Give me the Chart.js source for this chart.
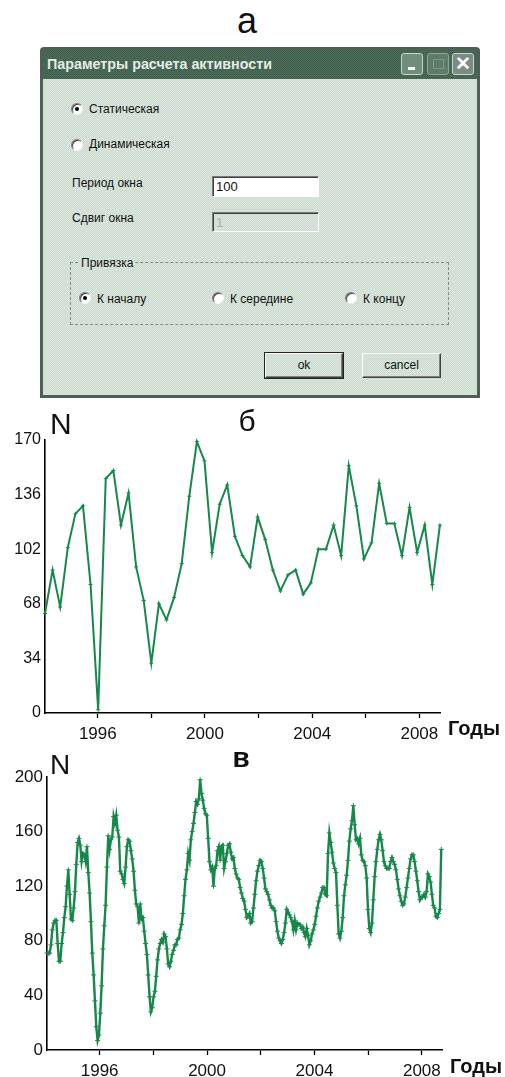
<!DOCTYPE html>
<html>
<head>
<meta charset="utf-8">
<script src="https://cdn.jsdelivr.net/npm/chart.js@4.4.0/dist/chart.umd.min.js"></script>
<style>
body { margin:0; width:505px; height:1077px; background:#fff; position:relative; overflow:hidden;
  font-family:"Liberation Sans", Arial, sans-serif; color:#111; }
.abs { position:absolute; white-space:nowrap; line-height:1; }
.dlg { position:absolute; left:40px; top:47px; width:440px; height:351px; background:#4e5f55; border-radius:4px 4px 0 0; }
.title { position:absolute; left:43px; top:50px; width:434px; height:29px;
  background:repeating-conic-gradient(#41604e 0 25%, #58776430 0 50%) 0 0/2px 2px, #4a6957; }
.body { position:absolute; left:43px; top:79px; width:434px; height:316px;
  background:repeating-conic-gradient(#cddbd0 0 25%, #dae6dc 0 50%) 0 0/2px 2px; }
.tbtn { position:absolute; top:53px; width:20px; height:20px; border:1px solid #c9d6cd; border-radius:3px; }
.radio { position:absolute; width:10px; height:10px; border-radius:50%; background:#fff;
  border:1px solid; border-color:#7d7d7d #f4f4f4 #f4f4f4 #7d7d7d; box-shadow:inset 1px 1px 0 #404040; }
.radio.on::after { content:""; position:absolute; left:3px; top:3px; width:4px; height:4px; border-radius:50%; background:#000; }
.lbl { font-size:12px; }
.input { position:absolute; left:212px; width:107px; border:1px solid; border-color:#7a7a7a #fff #fff #7a7a7a;
  box-shadow:inset 1px 1px 0 #404040; font-size:13px; line-height:19px; padding-left:3px; box-sizing:border-box; }
.btn { position:absolute; top:353px; height:25px; box-sizing:border-box; border:1px solid;
  border-color:#fff #404040 #404040 #fff; box-shadow:inset -1px -1px 0 #808080; font-size:12px;
  text-align:center; line-height:22px; background:repeating-conic-gradient(#cddbd0 0 25%, #dae6dc 0 50%) 0 0/2px 2px; }
.chartbox { position:absolute; left:0; }
</style>
</head>
<body>

<div class="abs" style="left:207px;top:3px;width:80px;text-align:center;font-size:36px;">а</div>

<!-- dialog -->
<div class="dlg"></div>
<div class="title"></div>
<div class="abs" style="left:47px;top:57px;font-size:14.3px;font-weight:bold;color:#e4ece6;">Параметры расчета активности</div>
<div class="tbtn" style="left:401px;background:#6f8f7c;"><div style="position:absolute;left:6px;top:13px;width:7px;height:3px;background:#fff;"></div></div>
<div class="tbtn" style="left:427px;background:#5d7c69;border-color:#8fa597;"><div style="position:absolute;left:5px;top:5px;width:9px;height:8px;border:1px solid #7f9a89;"></div></div>
<div class="tbtn" style="left:452px;background:#7c8c84;"><div style="position:absolute;left:0;top:0;width:20px;text-align:center;font-size:19px;line-height:20px;color:#fff;font-weight:bold;">✕</div></div>
<div class="body"></div>

<div class="radio on" style="left:71px;top:103px;"></div>
<div class="abs lbl" style="left:89px;top:103px;">Статическая</div>
<div class="radio" style="left:71px;top:139px;"></div>
<div class="abs lbl" style="left:89px;top:138px;">Динамическая</div>

<div class="abs lbl" style="left:72px;top:177px;">Период окна</div>
<div class="input" style="top:176px;height:21px;background:#fff;">100</div>
<div class="abs lbl" style="left:72px;top:212px;">Сдвиг окна</div>
<div class="input" style="top:212px;height:20px;color:#a8b4ab;">1</div>

<div style="position:absolute;left:70px;top:262px;width:377px;height:61px;border:1px dashed #7f8f85;"></div>
<div class="abs lbl" style="left:79px;top:257px;padding:0 2px;background:#d4e1d6;">Привязка</div>
<div class="radio on" style="left:79px;top:292px;"></div>
<div class="abs lbl" style="left:97px;top:293px;">К началу</div>
<div class="radio" style="left:212px;top:292px;"></div>
<div class="abs lbl" style="left:230px;top:293px;">К середине</div>
<div class="radio" style="left:345px;top:292px;"></div>
<div class="abs lbl" style="left:363px;top:293px;">К концу</div>

<div class="btn" style="left:265px;width:78px;outline:1px solid #222;">ok</div>
<div class="btn" style="left:362px;width:79px;">cancel</div>

<!-- chart б -->
<div class="chartbox" style="top:400px;"><canvas id="chartB" width="505" height="345"></canvas></div>
<div class="abs" style="left:50px;top:409px;font-size:30px;">N</div>
<div class="abs" style="left:217px;top:406px;width:60px;text-align:center;font-size:30px;">б</div>
<div class="abs" style="left:448px;top:718px;font-size:20px;font-weight:bold;">Годы</div>

<!-- chart в -->
<div class="chartbox" style="top:740px;"><canvas id="chartV" width="505" height="337"></canvas></div>
<div class="abs" style="left:50px;top:751px;font-size:28px;">N</div>
<div class="abs" style="left:211px;top:744px;width:60px;text-align:center;font-size:28px;font-weight:bold;">в</div>
<div class="abs" style="left:450px;top:1056px;font-size:20px;font-weight:bold;">Годы</div>

<script>
// б: static windows of ~100 days
const staticStart = 1994.03;
const staticStep = 0.2834;
const staticValues = [62, 89, 66, 103, 124, 129, 80, 2, 146, 151,
	117, 137, 91, 70, 31, 68, 58, 72, 93, 135,
	169, 157, 100, 130, 142, 110, 98, 91, 122, 108,
	89, 76, 86, 89, 74, 81, 102, 102, 117, 98,
	154, 129, 96, 106, 143, 118, 118, 98, 128, 100,
	117, 80, 117];
const staticYTicks = [0, 34, 68, 102, 136, 170];

// в: sliding window
const dynStart = 1994.04;
const dynStep = 0.0496;
const dynValues = [71, 71, 71, 77, 88, 93, 95, 95, 78, 65,
	65, 78, 86, 97, 105, 120, 132, 114, 96, 95,
	104, 116, 136, 152, 155, 150, 138, 144, 143, 138,
	149, 130, 115, 94, 71, 55, 36, 17, 7, 11,
	27, 47, 74, 91, 106, 134, 157, 147, 154, 156,
	171, 166, 172, 161, 156, 131, 129, 125, 122, 134,
	149, 154, 153, 146, 140, 131, 117, 107, 105, 93,
	107, 96, 97, 87, 78, 70, 55, 39, 28, 31,
	39, 43, 54, 66, 74, 78, 81, 79, 85, 83,
	74, 63, 61, 65, 70, 73, 77, 77, 81, 82,
	88, 92, 100, 113, 125, 132, 144, 139, 154, 160,
	166, 174, 182, 180, 184, 198, 188, 183, 177, 173,
	172, 155, 138, 132, 134, 120, 133, 135, 146, 149,
	139, 149, 150, 133, 138, 144, 150, 151, 145, 140,
	141, 133, 129, 126, 125, 119, 115, 111, 109, 103,
	97, 98, 100, 93, 94, 104, 114, 124, 131, 135,
	139, 138, 133, 126, 118, 116, 114, 110, 106, 104,
	104, 102, 94, 87, 82, 80, 78, 81, 86, 93,
	103, 101, 99, 97, 94, 88, 95, 88, 93, 92,
	92, 89, 90, 86, 83, 89, 84, 77, 80, 85,
	88, 92, 98, 104, 109, 112, 115, 119, 119, 114,
	113, 144, 159, 152, 145, 137, 133, 130, 106, 85,
	82, 87, 97, 113, 121, 128, 139, 153, 162, 168,
	179, 165, 154, 155, 151, 155, 143, 139, 138, 135,
	126, 103, 89, 86, 93, 110, 127, 138, 147, 154,
	158, 154, 146, 138, 135, 133, 133, 133, 138, 141,
	138, 136, 132, 125, 118, 113, 109, 106, 107, 112,
	119, 126, 133, 140, 143, 143, 138, 131, 124, 116,
	110, 112, 112, 114, 112, 116, 129, 127, 123, 114,
	106, 104, 98, 97, 100, 103, 147];
const dynYTicks = [0, 40, 80, 120, 160, 200];

const yearTicks = [1996, 1998, 2000, 2002, 2004, 2006, 2008];
const yearLabels = [1996, 2000, 2004, 2008];

const green = "#16884a";

const makeChart = (id, start, step, values, yTicks, box) => {
	let pts = values.map((v, i) => ({x: start + i * step, y: v}));
	return new Chart(document.getElementById(id), {
		type: "line",
		data: {
			datasets: [{
				data: pts,
				borderColor: green,
				borderWidth: box.lineWidth,
				pointStyle: "cross",
				pointRadius: box.pointRadius,
				pointBorderWidth: 1,
				pointBorderColor: green,
				tension: 0,
				clip: 8
			}]
		},
		options: {
			responsive: false,
			animation: false,
			devicePixelRatio: 1,
			layout: {padding: {left: 0, right: box.right, top: box.top, bottom: 0}},
			plugins: {legend: {display: false}, tooltip: {enabled: false}},
			scales: {
				x: {
					type: "linear",
					min: box.xMin,
					max: box.xMax,
					afterFit: s => { s.height = box.xHeight; },
					afterBuildTicks: s => { s.ticks = yearTicks.map(v => ({value: v})); },
					grid: {drawOnChartArea: false, drawTicks: true, tickLength: 5, color: "#000", tickWidth: 1.3},
					border: {color: "#000", width: 1.6},
					ticks: {
						autoSkip: false, maxRotation: 0, padding: 6, color: "#111",
						font: {family: "Liberation Sans", size: 17},
						callback: v => yearLabels.includes(v) ? String(v) : ""
					}
				},
				y: {
					min: yTicks[0],
					max: yTicks[yTicks.length - 1],
					afterFit: s => { s.width = box.left; },
					afterBuildTicks: s => { s.ticks = yTicks.map(v => ({value: v})); },
					grid: {display: false, drawTicks: false},
					border: {color: "#000", width: 1.6},
					ticks: {padding: 4, color: "#111", font: {family: "Liberation Sans", size: box.yFont}}
				}
			}
		}
	});
};

makeChart("chartB", staticStart, staticStep, staticValues, staticYTicks,
	{left: 45, right: 65, top: 40, xHeight: 32, xMin: 1994.03, xMax: 2008.77, yFont: 16, lineWidth: 2, pointRadius: 2});
makeChart("chartV", dynStart, dynStep, dynValues, dynYTicks,
	{left: 47, right: 63, top: 37, xHeight: 27, xMin: 1994.04, xMax: 2008.75, yFont: 17, lineWidth: 2.4, pointRadius: 2.5});
</script>
</body>
</html>
